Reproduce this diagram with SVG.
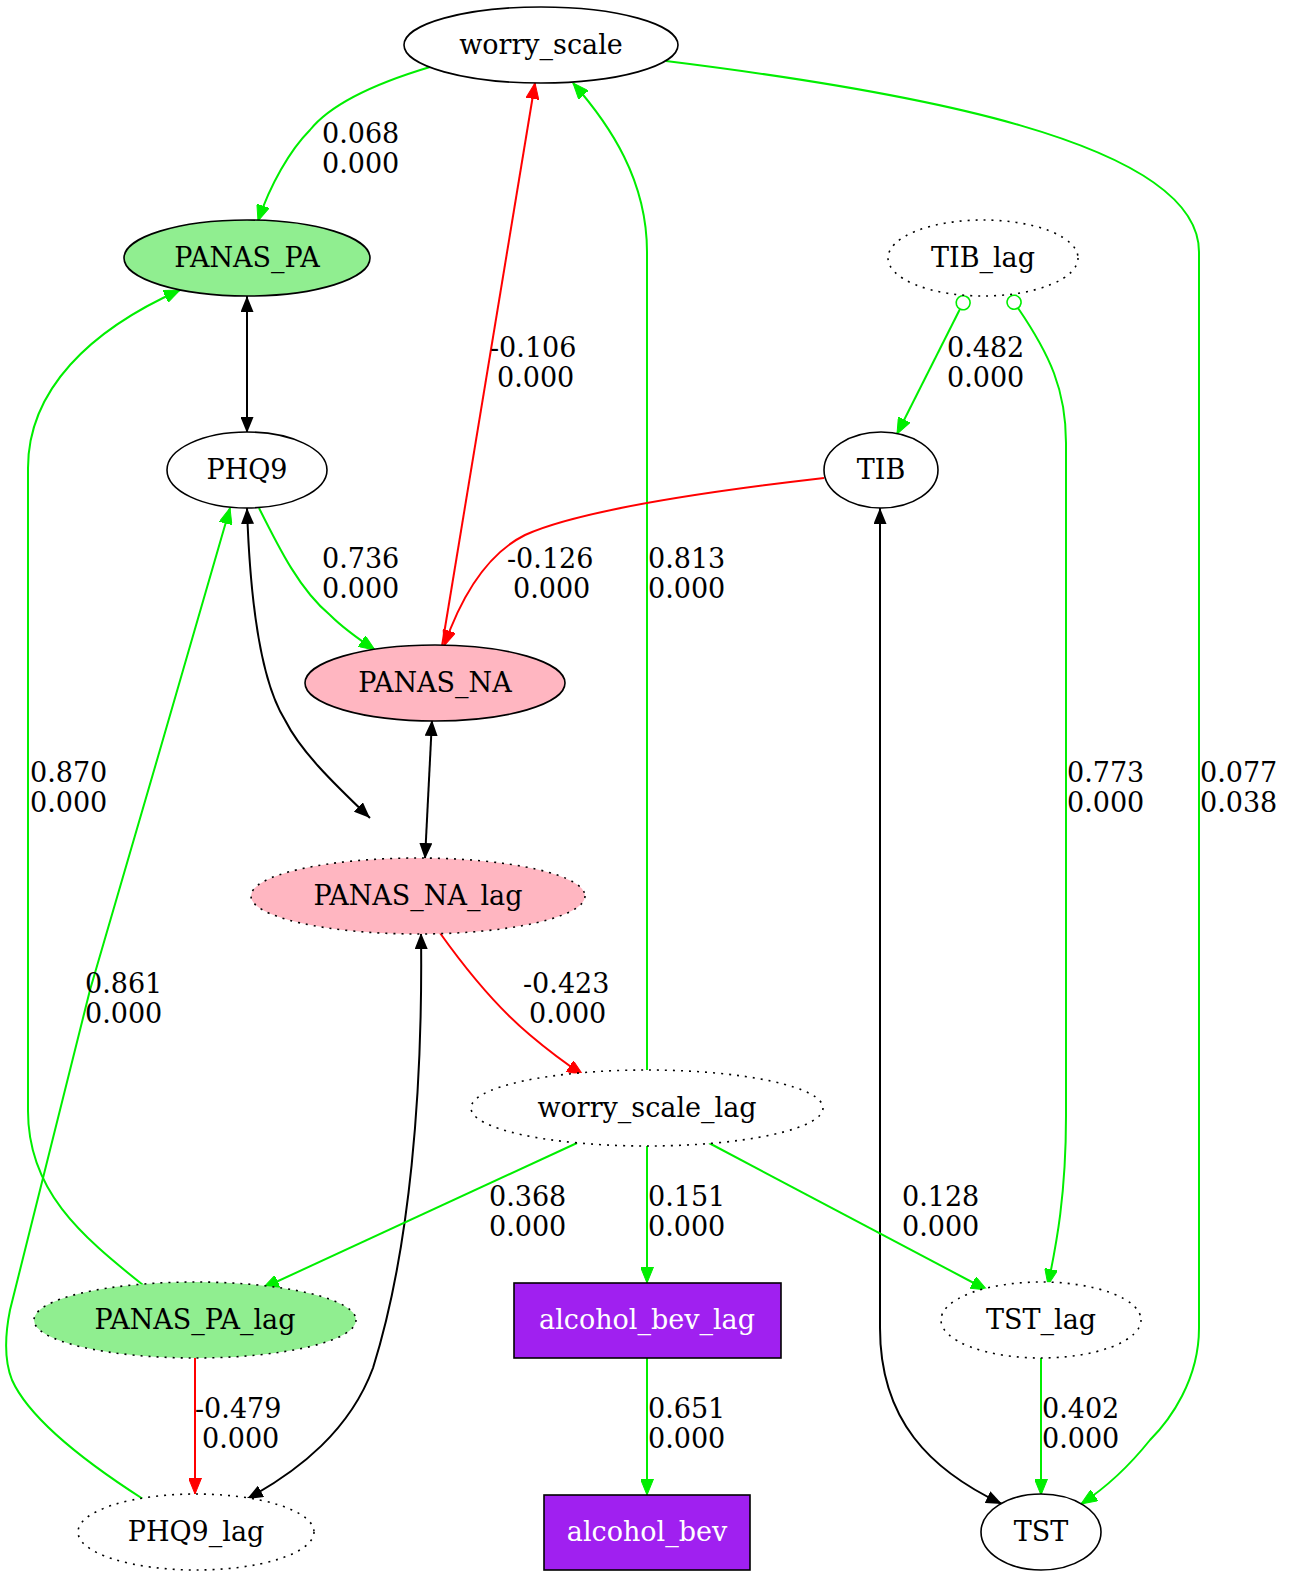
<svg xmlns="http://www.w3.org/2000/svg" width="1293" height="1579" viewBox="0 0 1293 1579">
<style>
text{font-family:"DejaVu Serif","Liberation Serif",serif;font-size:27px;fill:#000}
.n ellipse,.n rect{stroke:#000;stroke-width:1.6}
.d{stroke-dasharray:2,6}
.e path{fill:none;stroke-width:2}
.g{stroke:#00ee00}.r{stroke:#ff0000}.k{stroke:#000}
.c{text-anchor:middle}
</style>
<defs>
<marker id="mg" viewBox="0 0 16 13" refX="16" refY="6.5" markerWidth="16" markerHeight="13" markerUnits="userSpaceOnUse" orient="auto-start-reverse"><path d="M0,0L16,6.5L0,13z" fill="#00ee00" stroke="#00ee00"/></marker>
<marker id="mr" viewBox="0 0 16 13" refX="16" refY="6.5" markerWidth="16" markerHeight="13" markerUnits="userSpaceOnUse" orient="auto-start-reverse"><path d="M0,0L16,6.5L0,13z" fill="#ff0000" stroke="#ff0000"/></marker>
<marker id="mk" viewBox="0 0 16 13" refX="16" refY="6.5" markerWidth="16" markerHeight="13" markerUnits="userSpaceOnUse" orient="auto-start-reverse"><path d="M0,0L16,6.5L0,13z" fill="#000"/></marker>
<marker id="mo" viewBox="0 0 16 16" refX="1" refY="8" markerWidth="16" markerHeight="16" markerUnits="userSpaceOnUse" orient="auto-start-reverse"><circle cx="8" cy="8" r="7" fill="#fff" stroke="#00ee00" stroke-width="1.6"/></marker>
</defs>
<g class="e" id="edges">
<path class="g" d="M430,67C370,85 330,105 310,130C290,150 270,185 258,221" marker-end="url(#mg)"/>
<path class="r" d="M442,646L535,83" marker-end="url(#mr)"/>
<path class="g" d="M647,1071L647,252C647,180 610,125 573,83" marker-end="url(#mg)"/>
<path class="g" d="M666,61C900,90 1199,140 1199,252L1199,1328C1199,1380 1170,1420 1150,1440C1130,1465 1110,1485 1081,1504" marker-end="url(#mg)"/>
<path class="k" d="M247,296L247,433" marker-start="url(#mk)" marker-end="url(#mk)"/>
<path class="g" d="M143,1285C80,1235 28,1190 28,1111L28,468C28,390 90,330 180,290" marker-end="url(#mg)"/>
<path class="g" d="M960,309L897,434" marker-start="url(#mo)" marker-end="url(#mg)"/>
<path class="g" d="M1018,308C1050,355 1066,390 1066,443L1066,1116C1066,1200 1055,1250 1048,1285" marker-start="url(#mo)" marker-end="url(#mg)"/>
<path class="g" d="M259,508C280,550 300,590 330,615C345,630 360,640 375,650" marker-end="url(#mg)"/>
<path class="r" d="M824,478C720,490 580,510 525,535C485,555 460,600 444,646" marker-end="url(#mr)"/>
<path class="k" d="M247,508C250,600 260,680 285,720C300,750 330,780 370,818" marker-start="url(#mk)" marker-end="url(#mk)"/>
<path class="k" d="M432,720L425,859" marker-start="url(#mk)" marker-end="url(#mk)"/>
<path class="k" d="M880,508L880,1328C880,1420 930,1470 1002,1504" marker-start="url(#mk)" marker-end="url(#mk)"/>
<path class="r" d="M440,933C470,975 500,1010 530,1035C550,1052 565,1063 583,1075" marker-end="url(#mr)"/>
<path class="g" d="M143,1499C90,1465 30,1420 12,1380C4,1360 5,1335 10,1310L90,990C130,850 190,650 230,508" marker-end="url(#mg)"/>
<path class="k" d="M421,933C423,1090 410,1250 373,1368C350,1430 300,1470 247,1499" marker-start="url(#mk)" marker-end="url(#mk)"/>
<path class="g" d="M577,1143L263,1288" marker-end="url(#mg)"/>
<path class="g" d="M647,1146L647,1283" marker-end="url(#mg)"/>
<path class="g" d="M709,1143L987,1290" marker-end="url(#mg)"/>
<path class="r" d="M195,1358L195,1494" marker-end="url(#mr)"/>
<path class="g" d="M647,1358L647,1495" marker-end="url(#mg)"/>
<path class="g" d="M1041,1358L1041,1495" marker-end="url(#mg)"/>
</g>
<g id="labels">
<text x="322" y="143">0.068</text><text x="322" y="173">0.000</text>
<text x="490" y="357">-0.106</text><text x="497" y="387">0.000</text>
<text x="648" y="568">0.813</text><text x="648" y="598">0.000</text>
<text x="1200" y="782">0.077</text><text x="1200" y="812">0.038</text>
<text x="30" y="782">0.870</text><text x="30" y="812">0.000</text>
<text x="947" y="357">0.482</text><text x="947" y="387">0.000</text>
<text x="1067" y="782">0.773</text><text x="1067" y="812">0.000</text>
<text x="322" y="568">0.736</text><text x="322" y="598">0.000</text>
<text x="507" y="568">-0.126</text><text x="513" y="598">0.000</text>
<text x="523" y="993">-0.423</text><text x="529" y="1023">0.000</text>
<text x="85" y="993">0.861</text><text x="85" y="1023">0.000</text>
<text x="489" y="1206">0.368</text><text x="489" y="1236">0.000</text>
<text x="648" y="1206">0.151</text><text x="648" y="1236">0.000</text>
<text x="902" y="1206">0.128</text><text x="902" y="1236">0.000</text>
<text x="195" y="1418">-0.479</text><text x="202" y="1448">0.000</text>
<text x="648" y="1418">0.651</text><text x="648" y="1448">0.000</text>
<text x="1042" y="1418">0.402</text><text x="1042" y="1448">0.000</text>
</g>
<g class="n" id="worry_scale"><ellipse cx="541" cy="45" rx="137" ry="38" fill="#fff"/><text class="c" x="541" y="54">worry_scale</text></g>
<g class="n" id="PANAS_PA"><ellipse cx="247" cy="258" rx="123" ry="38" fill="#90ee90"/><text class="c" x="247" y="267">PANAS_PA</text></g>
<g class="n" id="TIB_lag"><ellipse class="d" cx="983" cy="258" rx="95" ry="38" fill="#fff"/><text class="c" x="983" y="267">TIB_lag</text></g>
<g class="n" id="PHQ9"><ellipse cx="247" cy="470" rx="80" ry="38" fill="#fff"/><text class="c" x="247" y="479">PHQ9</text></g>
<g class="n" id="TIB"><ellipse cx="881" cy="470" rx="57" ry="38" fill="#fff"/><text class="c" x="881" y="479">TIB</text></g>
<g class="n" id="PANAS_NA"><ellipse cx="435" cy="683" rx="130" ry="38" fill="#ffb6c1"/><text class="c" x="435" y="692">PANAS_NA</text></g>
<g class="n" id="PANAS_NA_lag"><ellipse class="d" cx="418" cy="896" rx="167" ry="38" fill="#ffb6c1"/><text class="c" x="418" y="905">PANAS_NA_lag</text></g>
<g class="n" id="worry_scale_lag"><ellipse class="d" cx="647" cy="1108" rx="176" ry="38" fill="#fff"/><text class="c" x="647" y="1117">worry_scale_lag</text></g>
<g class="n" id="PANAS_PA_lag"><ellipse class="d" cx="195" cy="1320" rx="161" ry="38" fill="#90ee90"/><text class="c" x="195" y="1329">PANAS_PA_lag</text></g>
<g class="n" id="alcohol_bev_lag"><rect x="514" y="1283" width="267" height="75" fill="#a020f0"/><text class="c" x="647" y="1329" style="fill:#fff">alcohol_bev_lag</text></g>
<g class="n" id="TST_lag"><ellipse class="d" cx="1041" cy="1320" rx="100" ry="38" fill="#fff"/><text class="c" x="1041" y="1329">TST_lag</text></g>
<g class="n" id="PHQ9_lag"><ellipse class="d" cx="196" cy="1532" rx="118" ry="38" fill="#fff"/><text class="c" x="196" y="1541">PHQ9_lag</text></g>
<g class="n" id="alcohol_bev"><rect x="544" y="1495" width="206" height="75" fill="#a020f0"/><text class="c" x="647" y="1541" style="fill:#fff">alcohol_bev</text></g>
<g class="n" id="TST"><ellipse cx="1041" cy="1532" rx="60" ry="38" fill="#fff"/><text class="c" x="1041" y="1541">TST</text></g>
</svg>
